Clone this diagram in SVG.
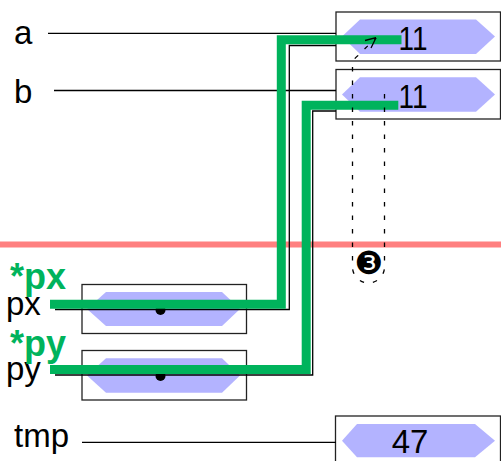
<svg xmlns="http://www.w3.org/2000/svg" width="501" height="461" viewBox="0 0 501 461">
<style>
.box{fill:#fff;stroke:#222;stroke-width:1.3}
.hex{fill:#b3b3ff}
.lbl{font-family:"Liberation Sans",Arial,sans-serif;font-size:33px;fill:#000}
.val{font-family:"Liberation Sans",Arial,sans-serif;font-size:33px;fill:#000;text-anchor:middle}
.star{font-family:"Liberation Sans",Arial,sans-serif;font-size:36px;font-weight:bold;fill:#00b35c}
.thin{fill:none;stroke:#000;stroke-width:1.3}
.green{fill:none;stroke:#00b35c;stroke-width:9}
.dash{fill:none;stroke:#000;stroke-width:1.3;stroke-dasharray:4.5 9}
</style>
<rect x="0" y="241.5" width="501" height="6" fill="#ff8080"/>
<g id="node-a">
<rect class="box" x="336" y="12" width="164.5" height="49"/>
<polygon class="hex" points="342,36.5 360,19.5 476,19.5 495,36.5 476,54 360,54"/>
<text class="val" x="413" y="50" textLength="29" lengthAdjust="spacingAndGlyphs">11</text>
<text class="lbl" x="14" y="44">a</text>
</g>
<g id="node-b">
<rect class="box" x="336" y="69.5" width="164.5" height="49.5"/>
<polygon class="hex" points="342,94.5 360,77.3 476,77.3 495,94.5 476,111.7 360,111.7"/>
<text class="val" x="413" y="108" textLength="29" lengthAdjust="spacingAndGlyphs">11</text>
<text class="lbl" x="14" y="103">b</text>
</g>
<g id="node-px">
<rect class="box" x="82" y="284.5" width="164.5" height="49"/>
<polygon class="hex" points="87,309 106,292 222,292 240,309 222,326 106,326"/>
<circle cx="160.5" cy="310" r="5" fill="#000"/>
<text class="lbl" x="6" y="315">px</text>
<text class="star" x="10" y="289">*px</text>
</g>
<g id="node-py">
<rect class="box" x="82" y="350.5" width="164.5" height="49.5"/>
<polygon class="hex" points="87,375.5 106,358.3 222,358.3 240,375.5 222,392.7 106,392.7"/>
<circle cx="160.5" cy="376" r="5" fill="#000"/>
<text class="lbl" x="6" y="380">py</text>
<text class="star" x="10" y="356">*py</text>
</g>
<g id="node-tmp">
<rect class="box" x="335.5" y="416" width="165" height="50"/>
<polygon class="hex" points="342,440.7 357,424 475,424 495,440.7 475,457.3 357,457.3"/>
<text class="val" x="410" y="453">47</text>
<text class="lbl" x="14" y="447">tmp</text>
</g>
<g id="node-step3">
<text x="368.5" y="274" font-family="DejaVu Sans,sans-serif" font-size="32" text-anchor="middle">❸</text>
</g>
<g id="connectors">
<path class="thin" d="M48,33.3 H336"/>
<path class="thin" d="M54,90.5 H336"/>
<path class="thin" d="M82,442.3 H336"/>
<path class="thin" d="M55,309.5 H289.3 V45.5 H336"/>
<path class="thin" d="M55,375 H312.7 V111 H336"/>
<path class="green" d="M50,304.3 H281.3 V39.7 H401.5"/>
<path class="green" d="M50,369.5 H306.2 V105.3 H398.3"/>
<path class="dash" d="M384.5,94 V267 A16,16 0 0 1 352.5,267 V64 Q352.5,60 358,55.5 L376,37.7"/>
<path class="thin" d="M376,37.7 L365,40.5 M376,37.7 L371,48"/>
</g>
</svg>
